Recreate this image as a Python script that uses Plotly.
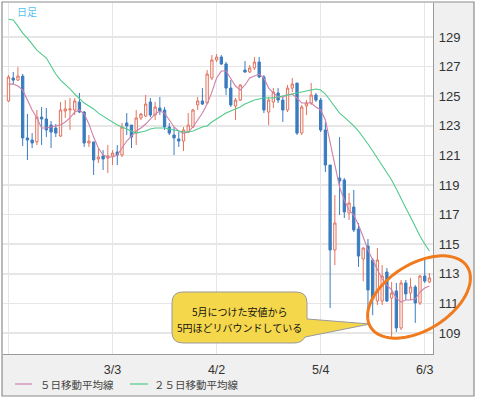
import math
import plotly.graph_objects as go

# ---------------- data ----------------
day_index = list(range(90))

open_ = [124.68, 126.23, 126.09, 126.36, 122.18, 122.04, 121.91, 123.59, 123.46, 123.05,
         122.85, 122.31, 124.00, 124.07, 124.07, 124.61, 123.93, 121.84, 121.91, 120.76,
         120.96, 120.82, 120.96, 121.23, 121.03, 123.19, 123.05, 122.51, 123.53, 123.66,
         124.61, 123.73, 124.20, 124.07, 122.92, 122.38, 122.11, 121.97, 122.58, 122.92,
         124.41, 124.68, 124.54, 126.23, 127.45, 127.65, 127.18, 125.55, 124.34, 124.74,
         126.77, 126.64, 126.91, 127.31, 126.30, 123.93, 124.61, 125.22, 124.74, 124.07,
         125.55, 125.89, 122.51, 124.34, 124.54, 125.08, 124.74, 122.72, 120.35, 114.61,
         119.47, 119.34, 117.11, 117.51, 116.03, 114.00, 114.88, 113.93, 111.16, 111.16,
         113.12, 111.36, 111.84, 109.34, 112.38, 111.70, 112.11, 111.03, 112.85, 112.45]

high = [126.43, 126.64, 126.97, 126.50, 123.80, 122.51, 124.07, 124.27, 124.20, 123.32,
        123.12, 124.61, 124.74, 124.88, 124.88, 125.22, 124.00, 122.38, 121.91, 121.50,
        121.36, 121.70, 121.36, 121.70, 123.19, 123.86, 123.05, 124.07, 123.86, 125.08,
        124.88, 124.61, 124.95, 124.27, 123.19, 122.92, 122.58, 122.92, 123.86, 124.14,
        124.95, 125.55, 126.77, 127.78, 127.85, 127.78, 127.31, 126.09, 124.88, 125.82,
        127.38, 127.11, 127.65, 127.65, 126.43, 124.95, 125.55, 125.55, 124.95, 125.76,
        126.23, 125.89, 124.41, 124.74, 125.89, 125.22, 124.88, 123.26, 120.35, 118.32,
        122.24, 119.47, 118.46, 118.66, 116.43, 114.80, 115.35, 114.07, 114.74, 113.59,
        113.39, 112.45, 112.38, 112.58, 112.58, 112.72, 112.24, 112.92, 114.07, 113.05]

low = [124.61, 125.82, 126.03, 121.64, 120.69, 121.50, 121.70, 121.70, 122.24, 121.50,
       122.24, 122.24, 123.53, 122.72, 123.73, 123.86, 121.57, 121.57, 119.68, 120.49,
       120.01, 119.81, 120.35, 120.35, 120.89, 122.38, 121.50, 121.70, 123.39, 123.59,
       123.59, 123.39, 123.73, 122.72, 122.38, 121.03, 121.57, 121.30, 122.51, 122.85,
       124.07, 124.41, 124.47, 126.09, 127.31, 127.11, 125.08, 124.27, 123.39, 124.68,
       126.57, 126.57, 126.77, 126.23, 123.86, 123.05, 124.20, 124.54, 123.26, 123.93,
       125.28, 122.38, 122.38, 123.73, 124.41, 124.61, 122.58, 119.88, 110.69, 113.59,
       116.97, 116.77, 116.64, 115.82, 113.46, 112.50, 110.69, 110.20, 110.89, 110.89,
       111.09, 108.73, 109.07, 109.20, 111.23, 111.23, 109.68, 110.89, 112.38, 112.38]

close = [126.30, 126.09, 126.36, 122.18, 122.04, 121.84, 123.59, 123.46, 122.72, 122.58,
         122.51, 124.07, 124.14, 124.14, 124.68, 123.93, 121.84, 121.97, 120.69, 120.89,
         120.76, 120.96, 121.16, 121.03, 122.92, 122.99, 122.24, 123.53, 123.80, 124.47,
         123.73, 124.27, 124.00, 122.92, 122.51, 122.18, 121.97, 122.72, 123.05, 124.07,
         124.68, 124.47, 126.50, 127.45, 127.65, 127.18, 125.55, 124.41, 124.74, 125.76,
         126.64, 126.91, 127.31, 126.30, 124.07, 124.74, 125.28, 124.74, 124.07, 125.55,
         125.82, 122.51, 124.27, 124.54, 125.08, 124.74, 122.72, 120.35, 114.61, 116.43,
         119.27, 117.18, 117.78, 115.96, 114.20, 114.74, 111.91, 111.30, 113.93, 112.85,
         111.16, 111.70, 109.34, 112.38, 111.64, 112.11, 111.03, 112.85, 112.51, 112.72]

ma5 = [125.82, 125.82, 125.69, 125.42, 124.74, 124.07, 123.53, 122.85, 122.85, 122.92,
       122.99, 123.05, 123.26, 123.53, 123.93, 124.07, 123.80, 123.12, 122.24, 121.50,
       121.03, 120.89, 120.89, 121.03, 121.50, 121.97, 122.31, 122.65, 122.85, 123.12,
       123.46, 123.80, 124.00, 123.86, 123.39, 122.92, 122.65, 122.51, 122.58, 122.92,
       123.39, 123.86, 124.47, 125.28, 126.23, 126.70, 126.70, 126.23, 125.69, 125.42,
       125.76, 126.23, 126.36, 126.50, 126.23, 125.55, 125.22, 124.95, 124.95, 125.08,
       125.15, 124.88, 124.54, 124.54, 124.54, 124.27, 124.07, 123.39, 121.80, 120.35,
       118.86, 117.99, 117.31, 116.97, 116.30, 115.49, 114.61, 113.93, 113.26, 112.65,
       112.24, 111.91, 111.36, 111.09, 111.23, 111.23, 111.30, 111.77, 112.04, 112.18]

ma25 = [130.20, 130.15, 129.74, 129.27, 128.93, 128.53, 128.12, 127.85, 127.58, 127.04,
        126.50, 126.09, 125.82, 125.49, 125.15, 124.81, 124.54, 124.34, 124.14, 123.86,
        123.66, 123.46, 123.26, 123.05, 122.92, 122.78, 122.65, 122.51, 122.58, 122.65,
        122.78, 122.85, 122.85, 122.85, 122.78, 122.72, 122.65, 122.58, 122.58, 122.65,
        122.78, 122.92, 122.99, 123.26, 123.46, 123.66, 123.86, 124.00, 124.14, 124.27,
        124.47, 124.61, 124.74, 124.81, 124.88, 124.88, 124.88, 124.95, 125.01, 125.08,
        125.15, 125.22, 125.28, 125.35, 125.42, 125.49, 125.42, 125.15, 124.74, 124.27,
        123.86, 123.59, 123.32, 122.99, 122.65, 122.24, 121.77, 121.30, 120.82, 120.35,
        119.88, 119.34, 118.73, 118.05, 117.45, 116.84, 116.16, 115.55, 115.01, 114.54]

date_tick_pos = [0, 22, 44, 66, 88]
date_tick_text = ["", "3/3", "4/2", "5/4", "6/3"]
price_ticks = [109, 111, 113, 115, 117, 119, 121, 123, 125, 127, 129]

legend_names = ["５日移動平均線", "２５日移動平均線"]
chart_title = "日足"
callout_lines = ["5月につけた安値から", "5円ほどリバウンドしている"]

# ---------------- styling ----------------
W, H = 478, 399
ML, MR, MT, MB = 3, 45, 3, 45
PW, PH = W - ML - MR, H - MT - MB

UP = "#e2735d"
DOWN = "#3a7cc0"
C5 = "#d080a8"
C25 = "#4fcb8c"
GRID = "#e6e6e6"
PANEL = "#f0f0f0"
JP = "Noto Sans CJK JP"
LAT = "Liberation Sans, Arial, sans-serif"


def px(x):
    return (x - ML) / PW


def py(y):
    return (H - MB - y) / PH


fig = go.Figure()
fig.add_trace(go.Candlestick(
    x=day_index, open=open_, high=high, low=low, close=close,
    increasing=dict(line=dict(color=UP, width=1), fillcolor="white"),
    decreasing=dict(line=dict(color=DOWN, width=1), fillcolor=DOWN),
    whiskerwidth=0, showlegend=False, hoverinfo="skip",
))
fig.add_trace(go.Scatter(x=day_index, y=ma5, mode="lines",
                         line=dict(color=C5, width=1.1), showlegend=False,
                         hoverinfo="skip"))
fig.add_trace(go.Scatter(x=day_index, y=ma25, mode="lines",
                         line=dict(color=C25, width=1.1), showlegend=False,
                         hoverinfo="skip"))

shapes = []
# grey side / bottom panels
shapes.append(dict(type="rect", xref="paper", yref="paper", layer="below",
                   x0=px(433), x1=px(474), y0=py(354), y1=py(2),
                   fillcolor=PANEL, line=dict(width=0)))
shapes.append(dict(type="rect", xref="paper", yref="paper", layer="below",
                   x0=px(2), x1=px(474), y0=py(396), y1=py(354),
                   fillcolor=PANEL, line=dict(width=0)))
# outer frame
shapes.append(dict(type="rect", xref="paper", yref="paper", layer="above",
                   x0=px(2), x1=px(474), y0=py(396), y1=py(2),
                   line=dict(color="#8c8c8c", width=1.2)))

# callout bubble with tail (pixel outline -> paper coords)
bub = [("M", 183, 292), ("L", 296, 292), ("Q", 307, 292, 307, 303),
       ("L", 307, 319), ("L", 370, 324), ("L", 305, 337),
       ("Q", 302, 343, 294, 343), ("L", 183, 343), ("Q", 172, 343, 172, 332),
       ("L", 172, 303), ("Q", 172, 292, 183, 292)]
path = ""
for seg in bub:
    cmd, pts = seg[0], seg[1:]
    coords = []
    for k in range(0, len(pts), 2):
        coords.append(f"{px(pts[k]):.5f},{py(pts[k + 1]):.5f}")
    path += cmd + " " + " ".join(coords) + " "
path += "Z"
shapes.append(dict(type="path", xref="paper", yref="paper", path=path,
                   fillcolor="#f5d74c", line=dict(color="#9a9a9a", width=1),
                   layer="above"))

# orange tilted ellipse
cx, cy, ea, eb, th = 419, 297, 57, 33, math.radians(32)
pts = []
for k in range(73):
    t = 2 * math.pi * k / 72
    x = cx + ea * math.cos(t) * math.cos(th) + eb * math.sin(t) * math.sin(th)
    y = cy - ea * math.cos(t) * math.sin(th) + eb * math.sin(t) * math.cos(th)
    pts.append(f"{px(x):.5f},{py(y):.5f}")
epath = "M " + " L ".join(pts) + " Z"
shapes.append(dict(type="path", xref="paper", yref="paper", path=epath,
                   line=dict(color="#f07a1c", width=3), layer="above"))

# legend line samples
shapes.append(dict(type="line", xref="paper", yref="paper",
                   x0=px(15), x1=px(32), y0=py(384), y1=py(384),
                   line=dict(color=C5, width=1.2)))
shapes.append(dict(type="line", xref="paper", yref="paper",
                   x0=px(130), x1=px(148), y0=py(384), y1=py(384),
                   line=dict(color=C25, width=1.2)))

annotations = [
    dict(text=chart_title, x=px(15), y=py(11.5), xref="paper", yref="paper",
         xanchor="left", yanchor="middle", showarrow=False,
         font=dict(family=JP, size=10, color="#55c3ef")),
    dict(text=callout_lines[0], x=px(240), y=py(311), xref="paper", yref="paper",
         xanchor="center", yanchor="middle", showarrow=False,
         font=dict(family=JP, size=10, color="#111")),
    dict(text=callout_lines[1], x=px(239), y=py(327), xref="paper", yref="paper",
         xanchor="center", yanchor="middle", showarrow=False,
         font=dict(family=JP, size=10, color="#111")),
    dict(text=legend_names[0], x=px(38), y=py(384.5), xref="paper", yref="paper",
         xanchor="left", yanchor="middle", showarrow=False,
         font=dict(family=JP, size=10.5, color="#444")),
    dict(text=legend_names[1], x=px(152), y=py(384.5), xref="paper", yref="paper",
         xanchor="left", yanchor="middle", showarrow=False,
         font=dict(family=JP, size=10.5, color="#444")),
]

fig.update_layout(
    width=W, height=H,
    margin=dict(l=ML, r=MR, t=MT, b=MB, pad=0),
    paper_bgcolor="white", plot_bgcolor="white",
    shapes=shapes, annotations=annotations,
    showlegend=False, hovermode=False,
    xaxis=dict(range=[-1.16, 89.75], tickvals=date_tick_pos, ticktext=date_tick_text,
               showgrid=True, gridcolor=GRID, gridwidth=1.5, zeroline=False,
               showline=True, linecolor="#9a9a9a", linewidth=1.2,
               ticks="", ticklabelstandoff=4,
               tickfont=dict(family=LAT, size=12.5, color="#333"),
               rangeslider=dict(visible=False), fixedrange=True),
    yaxis=dict(range=[107.58, 131.30], side="right", tickvals=price_ticks,
               showgrid=True, gridcolor=GRID, gridwidth=1.5, zeroline=False,
               showline=True, linecolor="#9a9a9a", linewidth=1.2,
               ticks="", ticklabelstandoff=2,
               tickfont=dict(family=LAT, size=13, color="#333"), fixedrange=True),
)

fig.write_html(
    "out.html",
    config={"displayModeBar": False, "staticPlot": True},
    post_script="document.body.style.margin='0px';document.body.style.padding='0px';",
)
